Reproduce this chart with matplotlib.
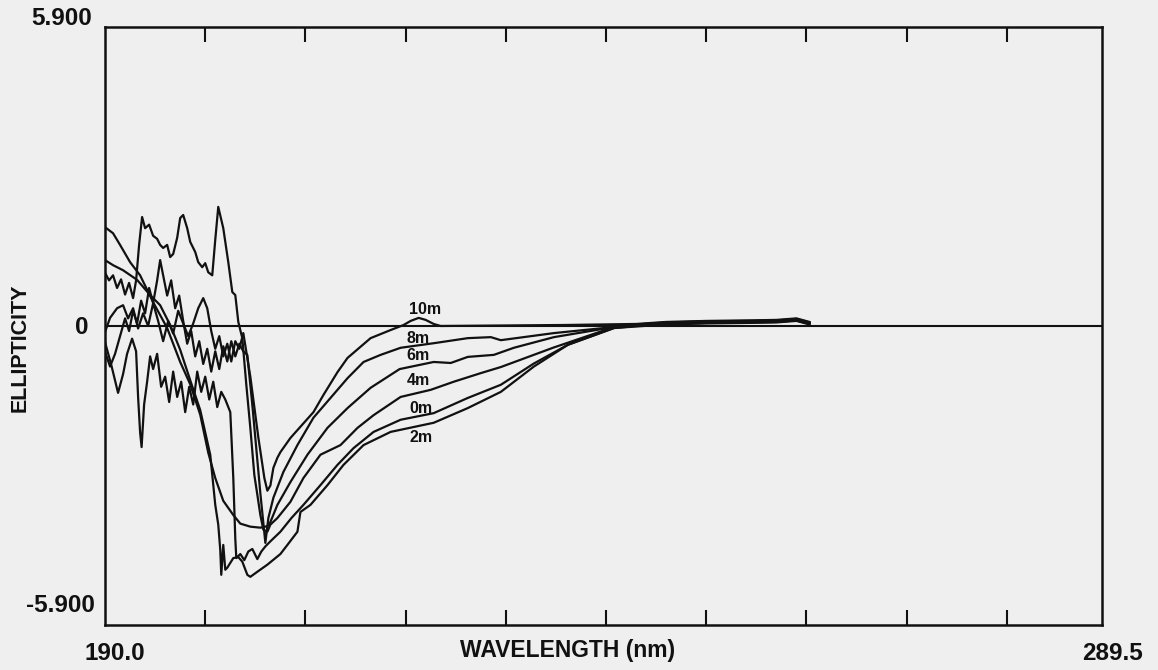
import matplotlib
matplotlib.use("Agg")
import matplotlib.pyplot as plt

# CD spectra: wavelength (nm) vs ellipticity, one trace per incubation time
wl_0m = [190.0, 190.6, 191.3, 191.8, 192.2, 192.7, 193.1, 193.3, 193.5, 193.65, 193.9, 194.2, 194.5, 194.8,
         195.2, 195.6, 196.0, 196.4, 196.8, 197.2, 197.6, 198.0, 198.4, 198.8, 199.2, 199.6, 200.0, 200.4,
         200.8, 201.2, 201.6, 202.0, 202.5, 202.8, 203.0, 203.1, 203.5, 203.9, 204.3, 204.7, 205.2, 205.6,
         206.0, 206.5, 207.5, 208.6, 209.8, 211.5, 213.2, 214.8, 216.8, 219.5, 222.8, 226.2, 229.5, 232.8,
         236.2, 240.8, 243.0, 246.0, 250.0, 254.0, 257.0, 259.0, 260.3]
ell_0m = [-0.32, -0.75, -1.32, -0.95, -0.55, -0.25, -0.50, -1.40, -2.10, -2.39, -1.55, -1.10, -0.60, -0.85,
          -0.55, -1.20, -1.00, -1.50, -0.90, -1.40, -1.10, -1.70, -1.20, -1.55, -0.90, -1.30, -1.00, -1.45,
          -1.10, -1.60, -1.30, -1.45, -1.70, -3.00, -4.20, -4.58, -4.50, -4.62, -4.45, -4.40, -4.60, -4.45,
          -4.35, -4.25, -4.06, -3.79, -3.53, -3.14, -2.74, -2.41, -2.09, -1.85, -1.72, -1.42, -1.16, -0.74,
          -0.37, -0.04, 0.00, 0.04, 0.06, 0.07, 0.08, 0.11, 0.04]

wl_2m = [190.0, 190.8, 191.8, 193.2, 194.5, 195.5, 196.5, 197.5, 198.5, 199.5, 200.5, 201.0, 201.3, 201.5,
         201.6, 201.8, 202.0, 202.2, 202.8, 203.3, 203.7, 204.2, 204.5, 205.2, 206.2, 207.5, 208.2, 209.2,
         209.5, 210.5, 212.2, 213.8, 215.8, 218.5, 222.8, 226.2, 229.5, 232.8, 236.2, 240.8, 243.0, 246.0,
         250.0, 254.0, 257.0, 259.0, 260.3]
ell_2m = [1.30, 1.20, 1.10, 0.91, 0.61, 0.41, 0.02, -0.47, -1.07, -1.66, -2.54, -3.53, -3.92, -4.42,
          -4.91, -4.32, -4.81, -4.77, -4.58, -4.56, -4.65, -4.91, -4.95, -4.85, -4.71, -4.50, -4.32, -4.06,
          -3.67, -3.53, -3.14, -2.74, -2.35, -2.09, -1.91, -1.62, -1.30, -0.80, -0.37, -0.04, -0.01, 0.03,
          0.05, 0.06, 0.07, 0.10, 0.03]

wl_4m = [190.0, 190.4, 190.8, 191.2, 191.6, 192.0, 192.4, 192.8, 193.1, 193.4, 193.7, 194.0, 194.4, 194.8,
         195.2, 195.5, 195.8, 196.2, 196.5, 196.8, 197.2, 197.5, 197.8, 198.2, 198.5, 199.0, 199.3, 199.7,
         200.0, 200.3, 200.7, 201.0, 201.3, 201.8, 202.3, 202.7, 203.0, 203.3, 203.7, 204.1, 204.5, 204.9,
         205.2, 205.5, 205.8, 206.2, 206.5, 207.2, 208.5, 209.8, 211.5, 213.5, 215.2, 216.8, 219.5, 222.5,
         224.8, 227.5, 229.5, 234.7, 240.8, 243.0, 246.0, 250.0, 254.0, 257.0, 259.0, 260.3]
ell_4m = [1.05, 0.90, 1.00, 0.75, 0.92, 0.62, 0.85, 0.55, 0.90, 1.60, 2.15, 1.93, 2.00, 1.78,
          1.72, 1.60, 1.54, 1.60, 1.36, 1.42, 1.74, 2.13, 2.19, 1.93, 1.66, 1.46, 1.26, 1.16,
          1.24, 1.06, 1.00, 1.70, 2.35, 1.93, 1.26, 0.67, 0.61, 0.08, -0.24, -1.16, -2.01, -2.94,
          -3.33, -3.73, -4.02, -4.06, -3.92, -3.79, -3.47, -3.00, -2.54, -2.35, -2.01, -1.76, -1.40, -1.26,
          -1.10, -0.93, -0.81, -0.43, -0.02, 0.01, 0.06, 0.07, 0.09, 0.11, 0.14, 0.07]

wl_6m = [190.0, 190.8, 191.5, 192.5, 193.5, 194.8, 196.2, 197.5, 198.5, 199.5, 200.3, 201.0, 201.8, 202.8,
         203.5, 204.5, 205.5, 206.2, 206.5, 207.2, 208.5, 210.2, 212.2, 214.2, 216.5, 219.4, 222.8, 224.5,
         226.2, 228.8, 230.8, 234.8, 240.8, 243.0, 246.0, 250.0, 254.0, 257.0, 259.0, 260.3]
ell_6m = [1.95, 1.83, 1.60, 1.26, 1.00, 0.47, -0.04, -0.71, -1.15, -1.75, -2.50, -3.00, -3.45, -3.73,
          -3.90, -3.96, -3.98, -3.95, -3.87, -3.53, -3.08, -2.54, -2.01, -1.62, -1.22, -0.85, -0.71, -0.73,
          -0.61, -0.57, -0.43, -0.22, -0.02, 0.02, 0.05, 0.08, 0.08, 0.09, 0.12, 0.05]

wl_8m = [190.0, 190.5, 191.0, 191.5, 192.0, 192.4, 192.8, 193.2, 193.6, 194.0, 194.4, 194.8, 195.2, 195.5,
         195.8, 196.2, 196.6, 197.0, 197.4, 197.8, 198.2, 198.6, 199.0, 199.4, 199.8, 200.2, 200.6, 201.0,
         201.4, 201.8, 202.2, 202.6, 203.0, 203.4, 203.8, 204.2, 204.7, 205.5, 206.0, 206.3, 206.8, 207.8,
         209.2, 210.8, 212.5, 214.2, 215.8, 217.5, 219.5, 222.8, 226.2, 228.5, 229.5, 234.8, 240.8, 243.0,
         246.0, 250.0, 254.0, 257.0, 259.0, 260.3]
ell_8m = [-0.51, -0.80, -0.55, -0.20, 0.15, -0.10, 0.30, 0.05, 0.50, 0.25, 0.75, 0.45, 0.90, 1.30,
          1.00, 0.60, 0.90, 0.35, 0.60, 0.10, -0.35, -0.10, -0.60, -0.30, -0.75, -0.45, -0.90, -0.50,
          -0.85, -0.40, -0.70, -0.30, -0.60, -0.35, -0.50, -0.57, -1.56, -3.30, -4.28, -3.79, -3.39, -2.88,
          -2.35, -1.81, -1.42, -1.03, -0.71, -0.57, -0.43, -0.34, -0.24, -0.22, -0.28, -0.14, -0.02, 0.03,
          0.07, 0.09, 0.10, 0.10, 0.13, 0.06]

wl_10m = [190.0, 190.5, 191.2, 191.8, 192.3, 192.8, 193.3, 193.8, 194.3, 194.8, 195.3, 195.8, 196.3, 196.8,
          197.3, 197.8, 198.3, 198.8, 199.3, 199.8, 200.2, 200.6, 201.0, 201.4, 201.8, 202.2, 202.6, 203.0,
          203.4, 203.8, 204.5, 205.3, 205.9, 206.2, 206.5, 206.8, 207.2, 207.5, 208.5, 210.8, 211.8, 213.2,
          214.2, 216.5, 218.5, 219.8, 220.5, 221.3, 222.0, 222.8, 223.5, 230.0, 236.0, 243.0, 246.0, 250.0,
          254.0, 257.0, 259.0, 260.3]
ell_10m = [-0.12, 0.16, 0.35, 0.41, 0.15, 0.35, -0.05, 0.25, 0.00, 0.45, 0.10, -0.30, 0.10, -0.15,
           0.30, 0.05, -0.20, 0.05, 0.35, 0.55, 0.35, -0.10, -0.45, -0.20, -0.60, -0.35, -0.70, -0.30,
           -0.45, -0.14, -1.00, -2.20, -3.00, -3.25, -3.15, -2.80, -2.60, -2.49, -2.21, -1.70, -1.36, -0.91,
           -0.63, -0.24, -0.08, 0.02, 0.10, 0.16, 0.12, 0.04, 0.00, 0.01, 0.02, 0.04, 0.08, 0.10,
           0.11, 0.12, 0.15, 0.08]

series_names = ["0m", "2m", "4m", "6m", "8m", "10m"]
# where each time label sits (wavelength, ellipticity)
label_wl = [221.5, 221.5, 221.3, 221.2, 221.2, 221.9]
label_ell = [-1.62, -2.21, -1.07, -0.59, -0.24, 0.32]

x_min, x_max = 190.0, 289.5
y_min, y_max = -5.9, 5.9
x_ticks = [200, 210, 220, 230, 240, 250, 260, 270, 280]

INK = "#111111"
PAPER = "#efefef"
FONT = "Liberation Sans"

fig = plt.figure(figsize=(11.58, 6.70), dpi=100)
fig.patch.set_facecolor(PAPER)
ax = fig.add_axes([0.0907, 0.0672, 0.861, 0.8925])
ax.set_facecolor(PAPER)

ax.set_xlim(x_min, x_max)
ax.set_ylim(y_min, y_max)

ax.axhline(0, color=INK, lw=1.5, zorder=2)

traces = [(wl_0m, ell_0m), (wl_2m, ell_2m), (wl_4m, ell_4m),
          (wl_6m, ell_6m), (wl_8m, ell_8m), (wl_10m, ell_10m)]
for wl, ell in traces:
    ax.plot(wl, ell, color=INK, lw=1.6, solid_joinstyle="round", zorder=3)

for name, lx, ly in zip(series_names, label_wl, label_ell):
    ax.text(lx, ly, name, ha="center", va="center", fontsize=11.5,
            fontweight="bold", family=FONT, color=INK, zorder=4)

for s in ax.spines.values():
    s.set_linewidth(1.8)
    s.set_color(INK)

ax.set_xticks(x_ticks)
ax.tick_params(axis="x", direction="in", length=11, width=1.5, color=INK,
               top=True, bottom=True, labelbottom=False, labeltop=False)
ax.set_yticks([])

tk = dict(fontsize=17.5, fontweight="bold", family=FONT, color=INK,
          transform=ax.transAxes)
ax.text(-0.013, 1.015, "5.900", ha="right", va="center", **tk)
ax.text(-0.017, 0.498, "0", ha="right", va="center", **tk)
ax.text(-0.010, 0.033, "-5.900", ha="right", va="center", **tk)
ax.text(0.010, -0.047, "190.0", ha="center", va="center", **tk)
ax.text(1.010, -0.047, "289.5", ha="center", va="center", **tk)

ax.text(0.464, -0.043, "WAVELENGTH (nm)", ha="center", va="center",
        fontsize=16.5, fontweight="bold", family=FONT, color=INK,
        transform=ax.transAxes)
ax.text(-0.085, 0.463, "ELLIPTICITY", ha="center", va="center", rotation=90,
        fontsize=15.5, fontweight="bold", family=FONT, color=INK,
        transform=ax.transAxes)

fig.savefig("out.png", dpi=100, facecolor=PAPER)
